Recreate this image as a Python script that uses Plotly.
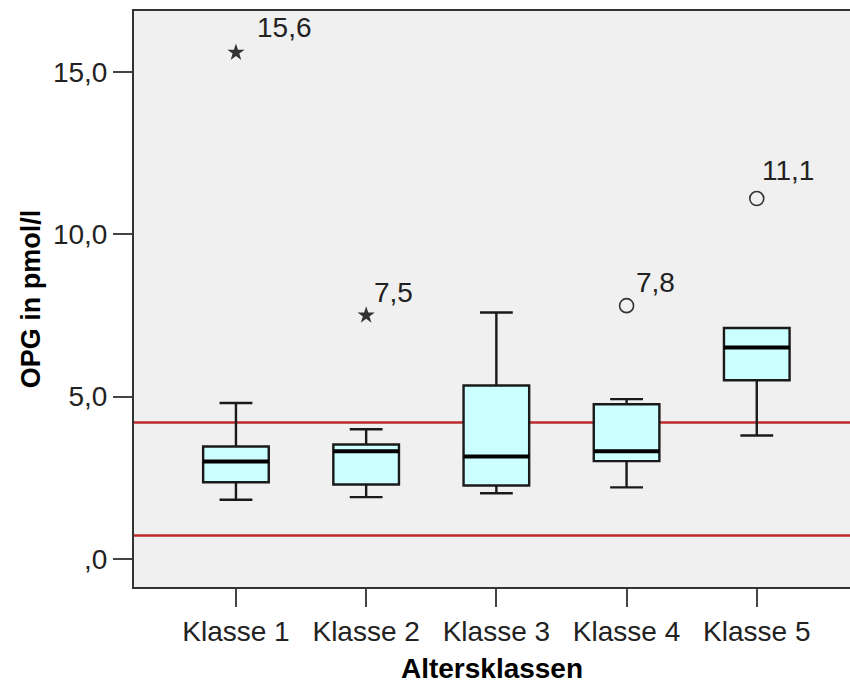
import plotly.graph_objects as go

categories = ["Klasse 1", "Klasse 2", "Klasse 3", "Klasse 4", "Klasse 5"]
q1 = [2.36, 2.29, 2.26, 3.01, 5.50]
median = [3.00, 3.31, 3.15, 3.31, 6.51]
q3 = [3.46, 3.52, 5.34, 4.76, 7.11]
lower_whisker = [1.82, 1.90, 2.02, 2.20, 3.80]
upper_whisker = [4.80, 3.99, 7.59, 4.92, 7.11]

extreme_cat = [0, 1]
extreme_val = [15.6, 7.5]
extreme_lbl = ["15,6", "7,5"]
outlier_cat = [3, 4]
outlier_val = [7.8, 11.1]
outlier_lbl = ["7,8", "11,1"]

ref_lines = [4.2, 0.72]

y_tickvals = [0, 5, 10, 15]
y_ticktext = [",0", "5,0", "10,0", "15,0"]

BOX_W = 0.504
FONT = "Liberation Sans, Arial, sans-serif"

fig = go.Figure()

for i in range(len(categories)):
    fig.add_trace(go.Box(
        x=[i], q1=[q1[i]], median=[median[i]], q3=[q3[i]],
        lowerfence=[lower_whisker[i]], upperfence=[upper_whisker[i]],
        width=BOX_W, whiskerwidth=0.5,
        fillcolor="#CCFFFF", line=dict(color="#1a1a1a", width=2.4),
        boxpoints=False, showlegend=False, hoverinfo="skip",
    ))

# thick median lines
mx, my = [], []
for i in range(len(categories)):
    mx += [i - BOX_W / 2, i + BOX_W / 2, None]
    my += [median[i], median[i], None]
fig.add_trace(go.Scatter(x=mx, y=my, mode="lines",
                         line=dict(color="black", width=4),
                         showlegend=False, hoverinfo="skip"))

# reference lines
for v in ref_lines:
    fig.add_hline(y=v, line=dict(color="#BE2A2E", width=2.5), layer="below")

# extremes (stars) and outliers (circles)
fig.add_trace(go.Scatter(x=extreme_cat, y=extreme_val, mode="markers",
                         marker=dict(symbol="star", size=13, color="#333333"),
                         showlegend=False, hoverinfo="skip"))
fig.add_trace(go.Scatter(x=outlier_cat, y=outlier_val, mode="markers",
                         marker=dict(symbol="circle-open", size=14, color="#333333",
                                     line=dict(width=1.6)),
                         showlegend=False, hoverinfo="skip"))

label_shifts = {"15,6": (19, 25), "7,5": (6, 23), "7,8": (7, 23), "11,1": (3, 28)}
for c, v, t in list(zip(extreme_cat, extreme_val, extreme_lbl)) + list(zip(outlier_cat, outlier_val, outlier_lbl)):
    dx, dy = label_shifts[t]
    fig.add_annotation(x=c, y=v, text=t, showarrow=False, xanchor="left",
                       yanchor="middle", xshift=dx, yshift=dy,
                       font=dict(family=FONT, size=28, color="#222222"))

fig.update_layout(
    width=850, height=684,
    margin=dict(l=134, r=0, t=11, b=97),
    paper_bgcolor="white", plot_bgcolor="#F0F0F0",
    font=dict(family=FONT, color="#222222"),
)
fig.update_xaxes(
    range=[-0.783, 4.716], tickvals=list(range(len(categories))), ticktext=categories,
    showgrid=False, zeroline=False, showline=True, linecolor="#333333", linewidth=2,
    mirror=True, ticks="outside", ticklen=18, tickwidth=2, tickcolor="#444444",
    tickfont=dict(family=FONT, size=28, color="#222222"),
    title=dict(text="<b>Altersklassen</b>", font=dict(family=FONT, size=28, color="black"), standoff=16),
)
fig.update_yaxes(
    range=[-0.87, 16.88], tickvals=y_tickvals, ticktext=y_ticktext,
    showgrid=False, zeroline=False, showline=True, linecolor="#333333", linewidth=2,
    ticks="outside", ticklen=19, tickwidth=2, tickcolor="#444444",
    tickfont=dict(family=FONT, size=28, color="#222222"),
    title=dict(text="<b>OPG in pmol/l</b>", font=dict(family=FONT, size=27, color="black"), standoff=4),
)

fig.write_html(
    "out.html",
    config={"displayModeBar": False},
    post_script="document.body.style.margin='0';document.body.style.overflow='hidden';",
)
